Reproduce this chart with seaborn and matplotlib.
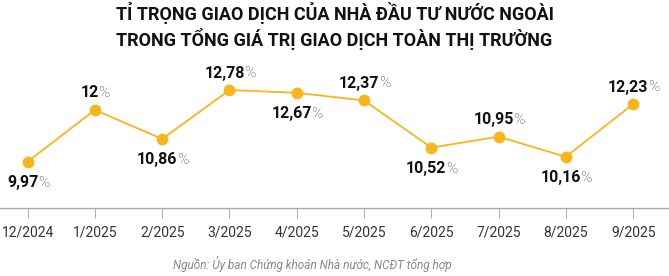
import matplotlib
matplotlib.use("Agg")
import matplotlib.pyplot as plt
import seaborn as sns
import pandas as pd

months = ["12/2024", "1/2025", "2/2025", "3/2025", "4/2025", "5/2025",
          "6/2025", "7/2025", "8/2025", "9/2025"]
values = [9.97, 12.00, 10.86, 12.78, 12.67, 12.37, 10.52, 10.95, 10.16, 12.23]
labels = ["9,97", "12", "10,86", "12,78", "12,67", "12,37", "10,52", "10,95", "10,16", "12,23"]
label_above = [False, True, False, True, False, True, False, True, False, True]

sns.set_style("white")
plt.rcParams["font.family"] = ["Roboto", "DejaVu Sans"]

df = pd.DataFrame({"x": range(len(months)), "v": values})

fig = plt.figure(figsize=(6.69, 2.76), dpi=100)
ax = fig.add_axes([0, 0.2464, 1, 0.54])
color = "#F8B51C"
sns.lineplot(data=df, x="x", y="v", ax=ax, color=color, linewidth=1.3,
             marker="o", markersize=8.5, markeredgewidth=0, markerfacecolor=color)

ax.set_xlim(-0.411, 9.533)
ax.set_ylim(8.15, 14.0)
ax.set_xlabel("")
ax.set_ylabel("")
ax.set_yticks([])
ax.set_xticks(range(len(months)))
ax.set_xticklabels(months, fontsize=10, color="#333333")
ax.tick_params(axis="x", length=7, width=0.8, color="#b0b0b0", pad=5.5, bottom=True)
for s in ["top", "left", "right"]:
    ax.spines[s].set_visible(False)
ax.spines["bottom"].set_color("#aaaaaa")
ax.spines["bottom"].set_linewidth(1)

for i, (v, lab, up) in enumerate(zip(values, labels, label_above)):
    off = 17 if up else -21
    t = ax.annotate(lab, xy=(i, v), xytext=(-5, off), textcoords="offset pixels",
                    ha="center", va="center", fontsize=11.5, fontweight="bold", color="#111111")
    ax.annotate("%", xy=(1, 0.5), xycoords=t, xytext=(-0.5, 0), textcoords="offset pixels",
                ha="left", va="center", fontsize=11, fontweight="light", color="#444444")

fig.text(0.5, 0.954, "TỈ TRỌNG GIAO DỊCH CỦA NHÀ ĐẦU TƯ NƯỚC NGOÀI",
         ha="center", va="center", fontsize=13, fontweight="bold", color="#111111")
fig.text(0.5, 0.857, "TRONG TỔNG GIÁ TRỊ GIAO DỊCH TOÀN THỊ TRƯỜNG",
         ha="center", va="center", fontsize=13, fontweight="bold", color="#111111")
fig.text(0.467, 0.043, "Nguồn: Ủy ban Chứng khoán Nhà nước, NCĐT tổng hợp",
         ha="center", va="center", fontsize=8.5, style="italic", color="#888888")

fig.savefig("out.png", dpi=100)
